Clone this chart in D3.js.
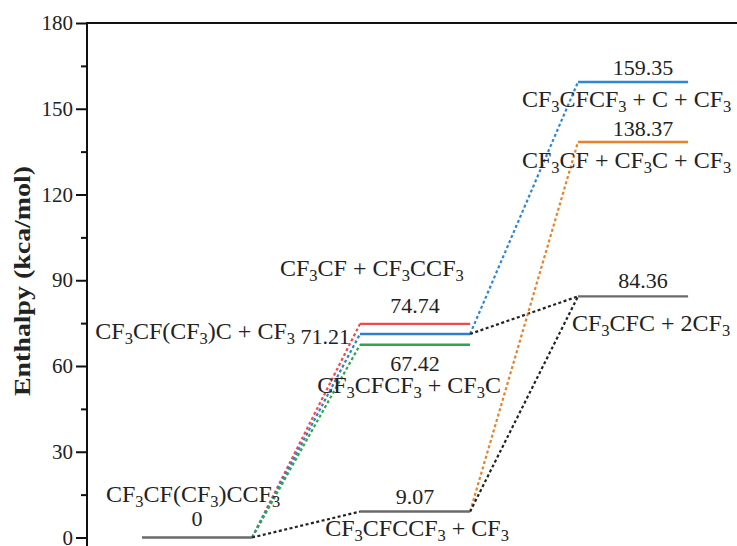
<!DOCTYPE html>
<html>
<head>
  <title>Enthalpy diagram</title>
  <script src="https://d3js.org/d3.v7.min.js"></script>
  <style>
    body { margin: 0; background: #fff; }
  </style>
</head>
<body>
<div id="chart"></div>
<script>
  // species (CF_3 means CF with subscript 3)
  const levelNames = ["CF_3CF(CF_3)CCF_3", "CF_3CF + CF_3CCF_3", "CF_3CF(CF_3)C + CF_3",
    "CF_3CFCF_3 + CF_3C", "CF_3CFCCF_3 + CF_3", "CF_3CFCF_3 + C + CF_3",
    "CF_3CF + CF_3C + CF_3", "CF_3CFC + 2CF_3"];
  const levelValues = [0, 74.74, 71.21, 67.42, 9.07, 159.35, 138.37, 84.36];
  const levelStages = [0, 1, 1, 1, 1, 2, 2, 2];
  const levelColors = ["#6a6a6a", "#ee4a50", "#2f7fcf", "#2aa84a", "#6a6a6a", "#2f86d2", "#e8812a", "#6a6a6a"];

  // dotted connections between levels
  const pathFrom = [0, 0, 0, 0, 2, 2, 4, 4];
  const pathTo = [1, 2, 3, 4, 5, 7, 6, 7];
  const pathColors = ["#ee4a50", "#2f7fcf", "#2aa84a", "#222", "#2f86d2", "#222", "#e8812a", "#222"];

  const yTicks = [0, 30, 60, 90, 120, 150, 180];
  const yMinor = [15, 45, 75, 105, 135, 165];

  // label layout: offsets from the level (px)
  const valuePos = [[0, -20], [0, -19], null, [0, 18], [0, -16], [10, -15], [10, -14], [10, -16]];
  const namePos = [
    {a: "middle", ref: "mid", dx: -4, dy: -44},
    {a: "start", ref: "left", dx: -80, dy: -56},
    {a: "end", ref: "left", dx: -10, dy: -3},
    {a: "middle", ref: "mid", dx: -6, dy: 40},
    {a: "middle", ref: "mid", dx: 2, dy: 16},
    {a: "start", ref: "left", dx: -56, dy: 17},
    {a: "start", ref: "left", dx: -56, dy: 18},
    {a: "start", ref: "left", dx: -6, dy: 27}
  ];

  const font = "'Times New Roman', 'Liberation Serif', 'DejaVu Serif', serif";
  const width = 737, height = 546;
  const svg = d3.select("#chart").append("svg")
    .attr("width", width).attr("height", height)
    .attr("font-family", font);

  const y = d3.scaleLinear().domain([0, 180]).range([537.5, 23]);
  const x = d3.scaleLinear().domain([0, 1]).range([142, 360]);
  const lw = 0.505; // level width in stage units
  const axisX = 87;

  // frame: left axis and top line
  svg.append("line").attr("x1", axisX).attr("x2", width).attr("y1", 23).attr("y2", 23)
    .attr("stroke", "#111").attr("stroke-width", 2);
  svg.append("line").attr("x1", axisX).attr("x2", axisX).attr("y1", 22).attr("y2", height)
    .attr("stroke", "#111").attr("stroke-width", 2);

  const gy = svg.append("g").attr("transform", `translate(${axisX},0)`)
    .call(d3.axisLeft(y).tickValues(yTicks).tickSize(11).tickPadding(3).tickSizeOuter(0));
  gy.attr("font-family", font).attr("font-size", 21);
  gy.select(".domain").remove();
  gy.selectAll(".tick line").attr("stroke", "#111").attr("stroke-width", 2);
  gy.selectAll(".tick text").attr("fill", "#222");

  const gm = svg.append("g").attr("transform", `translate(${axisX},0)`)
    .call(d3.axisLeft(y).tickValues(yMinor).tickSize(6).tickFormat(""));
  gm.select(".domain").remove();
  gm.selectAll(".tick line").attr("stroke", "#111").attr("stroke-width", 2);

  svg.append("text")
    .attr("transform", "translate(30,281) rotate(-90)")
    .attr("text-anchor", "middle").attr("fill", "#222")
    .attr("font-size", 24).attr("font-weight", "bold")
    .attr("textLength", 230).attr("lengthAdjust", "spacingAndGlyphs")
    .text("Enthalpy (kca/mol)");

  // dotted paths
  svg.selectAll(".link").data(pathFrom).enter().append("line")
    .attr("class", "link")
    .attr("x1", d => x(levelStages[d] + lw))
    .attr("y1", d => y(levelValues[d]))
    .attr("x2", (d, i) => x(levelStages[pathTo[i]]))
    .attr("y2", (d, i) => y(levelValues[pathTo[i]]))
    .attr("stroke", (d, i) => pathColors[i])
    .attr("stroke-width", 2.2)
    .attr("stroke-dasharray", "3,2.5");

  // energy levels
  svg.selectAll(".level").data(levelValues).enter().append("line")
    .attr("class", "level")
    .attr("x1", (d, i) => x(levelStages[i]))
    .attr("x2", (d, i) => x(levelStages[i] + lw))
    .attr("y1", d => y(d)).attr("y2", d => y(d))
    .attr("stroke", (d, i) => levelColors[i])
    .attr("stroke-width", 2.4);

  function addFormula(sel, str) {
    const parts = str.split(/_(\d)/);
    parts.forEach((p, k) => {
      if (p === "") return;
      if (k % 2 === 1) {
        sel.append("tspan").attr("font-size", 16.5).attr("dy", 5).text(p);
      } else {
        const t = sel.append("tspan").text(p);
        if (k > 0) t.attr("dy", -5);
      }
    });
  }

  const fs = 24, fv = 22, base = 8;
  levelValues.forEach((v, i) => {
    const xl = x(levelStages[i]), xr = x(levelStages[i] + lw), xm = (xl + xr) / 2;
    const yl = y(v);
    const np = namePos[i];
    const nx = (np.ref === "mid" ? xm : xl) + np.dx;
    const t = svg.append("text")
      .attr("x", nx).attr("y", yl + np.dy + base).attr("fill", "#222")
      .attr("text-anchor", np.a).attr("font-size", fs);
    addFormula(t, levelNames[i]);
    if (!valuePos[i]) {
      t.append("tspan").attr("font-size", fv).text(" " + d3.format(".2f")(v));
    } else {
      const vp = valuePos[i];
      svg.append("text")
        .attr("x", xm + vp[0]).attr("y", yl + vp[1] + base).attr("fill", "#222")
        .attr("text-anchor", "middle").attr("font-size", fv)
        .text(v === 0 ? "0" : d3.format(".2f")(v));
    }
  });
</script>
</body>
</html>
